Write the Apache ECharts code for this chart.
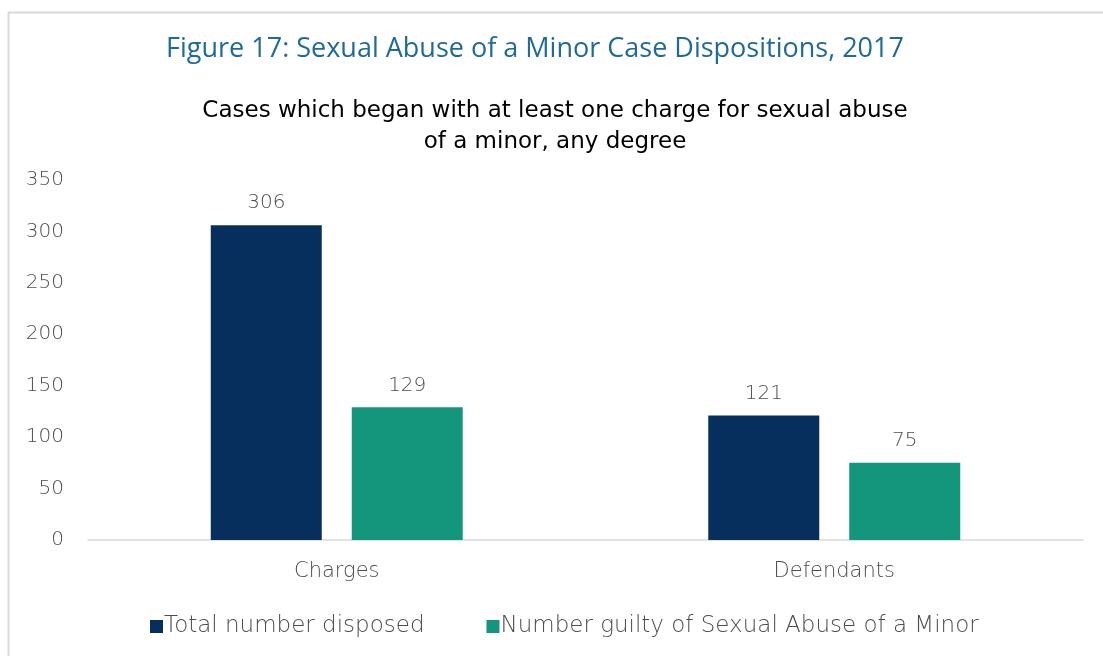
<!DOCTYPE html>
<html>
<head>
<meta charset="utf-8">
<script src="https://cdn.jsdelivr.net/npm/echarts@6/dist/echarts.min.js"></script>
<style>
  html, body { margin: 0; padding: 0; background: #fff; }
  #chart { width: 1103px; height: 656px; }
</style>
</head>
<body>
<div id="chart"></div>
<script>
const categories = ['Charges', 'Defendants']
const totalDisposed = [306, 121]
const guilty = [129, 75]
const seriesNames = ['Total number disposed', 'Number guilty of Sexual Abuse of a Minor']

const chart = echarts.init(document.getElementById('chart'), null, { renderer: 'canvas' })
const titleFont = '"Open Sans", "Noto Sans", sans-serif'
const font = '"DejaVu Sans", sans-serif'
const grey = '#4d4d4d'
const labelStyle = { show: true, position: 'top', distance: 12, color: grey, fontSize: 20, fontWeight: 300, fontFamily: font }

chart.setOption({
  animation: false,
  graphic: [
    {
      type: 'rect',
      shape: { x: 8.5, y: 12.5, width: 1200, height: 700 },
      style: { fill: 'none', stroke: '#d9d9d9', lineWidth: 2 },
    },
  ],
  title: [
    {
      text: 'Figure 17: Sexual Abuse of a Minor Case Dispositions, 2017',
      left: 530, top: 31, textAlign: 'center',
      textStyle: { color: '#1f6a9a', fontSize: 27, fontWeight: 'normal', fontFamily: titleFont },
    },
    {
      text: 'Cases which began with at least one charge for sexual abuse\nof a minor, any degree',
      left: 550, top: 91, textAlign: 'center',
      textStyle: { color: '#000', fontSize: 23, fontWeight: 'normal', fontFamily: font, lineHeight: 31 },
    },
  ],
  legend: {
    top: 610,
    left: 145,
    itemWidth: 13, itemHeight: 13, itemGap: 62,
    icon: 'rect',
    textStyle: { color: grey, fontSize: 23, fontWeight: 300, fontFamily: font, padding: [0, 0, 0, -4] },
  },
  grid: { left: 88, right: 20, top: 180, bottom: 116 },
  xAxis: {
    type: 'category',
    data: categories,
    axisTick: { show: false },
    axisLine: { lineStyle: { color: '#d9d9d9', width: 1.5 } },
    axisLabel: { color: grey, fontSize: 21, fontWeight: 300, fontFamily: font, margin: 21 },
  },
  yAxis: {
    type: 'value',
    min: 0, max: 350, interval: 50,
    splitLine: { show: false },
    axisLine: { show: false },
    axisLabel: { color: grey, fontSize: 20, fontWeight: 300, fontFamily: font, margin: 24 },
  },
  series: [
    {
      name: seriesNames[0], type: 'bar', data: totalDisposed,
      barWidth: 111, barGap: '27%',
      itemStyle: { color: '#062f5e' },
      label: labelStyle,
    },
    {
      name: seriesNames[1], type: 'bar', data: guilty,
      barWidth: 111,
      itemStyle: { color: '#14967c' },
      label: labelStyle,
    },
  ],
})
</script>
</body>
</html>
